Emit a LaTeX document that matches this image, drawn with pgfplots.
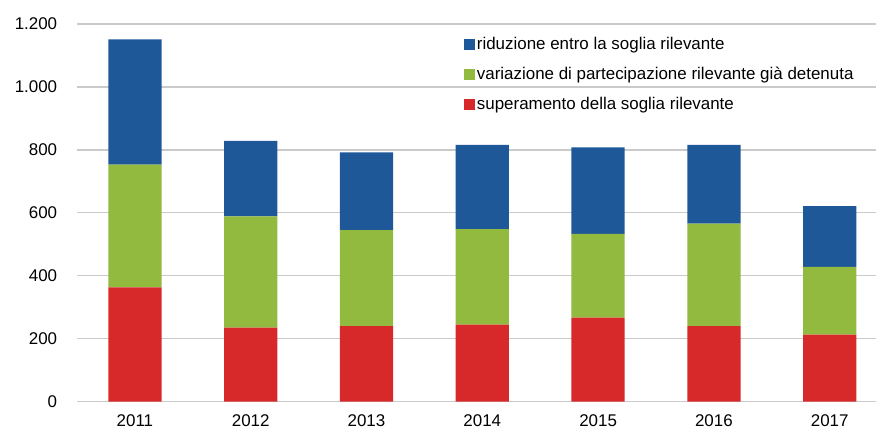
\documentclass[border=0pt]{standalone}
\usepackage{pgfplots}
\pgfplotsset{compat=1.18}
\usepackage{fontspec}
\setmainfont{Liberation Sans}
\definecolor{cblue}{HTML}{1E5899}
\definecolor{cgreen}{HTML}{92BA3E}
\definecolor{cred}{HTML}{D8292A}
\definecolor{cgrid}{HTML}{CACACA}
\begin{document}
\fontsize{17}{20}\selectfont
\begin{tikzpicture}
\useasboundingbox (-77bp,-27.3bp) rectangle (799bp,401.7bp);
\begin{axis}[
  at={(0,0)}, anchor=south west,
  scale only axis, width=799bp, height=377.7bp,
  ybar stacked, bar width=0.46,
  xmin=-0.5, xmax=6.4, ymin=0, ymax=1200,
  xtick={0,1,2,3,4,5,6},
  xticklabels={2011,2012,2013,2014,2015,2016,2017},
  ytick={0,200,400,600,800,1000,1200},
  ymajorgrids, grid style={cgrid, line width=1.3bp},
  axis line style={draw=none},
  major tick length=0,
  tick label style={font=\fontsize{17}{20}\selectfont},
  xticklabel style={yshift=-7bp},
  yticklabel style={xshift=-14bp},
  /pgf/number format/.cd, 1000 sep={.}, assume math mode=true, /pgfplots/.cd,
  legend image code/.code={\fill[#1] (0bp,-5.5bp) rectangle (11bp,5.5bp);},
  legend style={at={(rel axis cs:0.484,0.972)}, anchor=north west, draw=none, fill=none,
    font=\fontsize{17}{20}\selectfont, cells={anchor=west}, row sep=11.5bp,
    inner sep=0pt, /tikz/every even column/.style={column sep=2bp}},
  reverse legend,
]
\addplot[fill=cred, draw=none] coordinates {(0,363) (1,235) (2,240) (3,245) (4,267) (5,240) (6,213)};
\addlegendentry{superamento della soglia rilevante}
\addplot[fill=cgreen, draw=none] coordinates {(0,390) (1,354) (2,305) (3,303) (4,266) (5,326) (6,215)};
\addlegendentry{variazione di partecipazione rilevante già detenuta}
\addplot[fill=cblue, draw=none] coordinates {(0,398) (1,240) (2,247) (3,268) (4,275) (5,250) (6,193)};
\addlegendentry{riduzione entro la soglia rilevante}
\end{axis}
\end{tikzpicture}
\end{document}
